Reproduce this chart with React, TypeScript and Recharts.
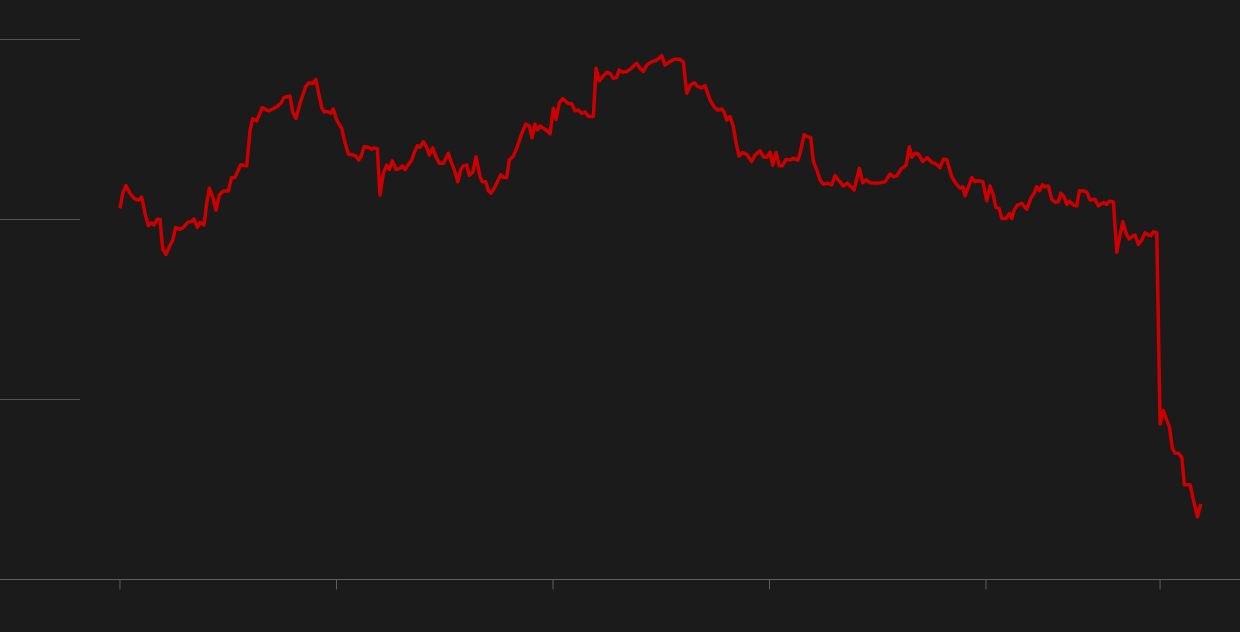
import React from "react";
import { LineChart, Line, XAxis, YAxis } from "recharts";

// week offset from the first observation
const weeks: number[] = [
  0, 0.65, 1.44, 2.4, 3.36, 4.4, 5.21, 6.01, 6.8, 7.61, 8.17, 8.96, 9.61, 10.26, 11.05, 11.84, 12.66, 13.38, 14.24, 15.06,
  16.26, 17.22, 17.77, 18.57, 19.22, 20.18, 20.83, 21.45, 22.27, 23.06, 23.85, 24.81, 26.01, 26.83, 27.62, 28.99, 30.43, 31.23, 31.87, 32.84,
  34.18, 35.24, 35.86, 37.64, 38.67, 39.39, 40.83, 41.48, 42.28, 43.24, 44.6, 45.4, 46.29, 47.01, 47.63, 48.45, 49.07, 50.03, 50.61, 51.23,
  52.05, 53.25, 53.88, 54.84, 56.04, 56.69, 57.34, 57.89, 58.61, 59.64, 60.46, 61.01, 61.8, 62.45, 63.24, 64.06, 64.69, 65.41, 66.3, 67.26,
  67.81, 68.46, 69.49, 70.07, 70.62, 71.41, 72.06, 72.85, 73.67, 74.29, 75.11, 75.9, 76.7, 77.66, 78.86, 79.67, 80.3, 81.12, 81.84, 82.46,
  83.28, 83.9, 84.72, 85.51, 86.47, 87.02, 87.84, 88.47, 89.11, 90.08, 91.44, 92.07, 92.89, 93.51, 94.47, 95.29, 96.49, 97.45, 98.31, 98.96,
  99.68, 100.24, 100.88, 102.09, 103.29, 104.08, 104.73, 105.52, 106.34, 107.54, 108.5, 109.29, 110.08, 110.9, 111.69, 112.49, 113.69, 114.34, 115.13, 116.09,
  116.91, 117.7, 118.49, 119.31, 119.86, 120.75, 121.71, 122.5, 123.3, 124.11, 124.9, 125.7, 126.51, 127.71, 128.92, 130.12, 130.91, 131.94, 133.31, 134.51,
  135.3, 136.12, 137.08, 137.95, 138.76, 139.72, 140.52, 141.72, 142.68, 143.57, 144.53, 145.08, 145.73, 146.52, 147.31, 147.96, 148.68, 149.57, 150.53, 151.73,
  152.53, 153.73, 154.52, 155.34, 156.13, 156.78, 157.57, 158.36, 159.08, 159.97, 160.93, 161.73, 162.78, 163.34, 164.3, 165.09, 165.91, 166.53, 167.35, 168.14,
  168.93, 169.89, 170.95, 171.74, 172.54, 173.74, 174.7, 176.31, 177.58, 178.4, 179.19, 180.15, 182.14, 183.75, 184.95, 185.75, 186.56, 187.52, 188.8, 189.59,
  190.17, 190.96, 191.75, 192.81, 193.91, 194.97, 196.17, 196.96, 197.76, 198.57, 199.77, 200.81, 201.77, 202.42, 202.97, 204.58, 205.37, 206.16, 207.22, 208.18,
  208.97, 209.77, 210.34, 211.14, 211.78, 212.82, 213.61, 214.19, 214.74, 215.53, 216.59, 217.79, 218.75, 219.54, 220.19, 220.82, 221.54, 222.19, 222.98, 223.79,
  224.59, 225.38, 225.96, 226.75, 227.4, 228.02, 228.98, 229.8, 230.42, 231.55, 232.2, 232.99, 234.2, 234.99, 236.19, 237.01, 237.63, 238.59, 239.41, 240.2,
  240.85, 241.64, 242.36, 243.25, 243.8, 244.6, 245.41, 246.21, 247.0, 247.57, 248.2, 249.01, 249.81, 250.6, 251.25, 252.04, 252.76, 253.41, 254.2, 255.02,
  255.64, 257.01, 257.81, 258.77, 259.58,
];

const values: number[] = [
  103.1, 107.3, 109.4, 107.3, 105.9, 105.4, 106.2, 101.7, 98.3, 99.1, 98.5, 100.1, 100.1, 91.8, 90.3, 92.4, 94.3, 97.8, 97.3, 97.6,
  99.2, 99.5, 100.1, 97.8, 99.2, 98.5, 104.5, 108.7, 106.3, 102.6, 106.8, 107.9, 107.9, 111.7, 111.7, 115.2, 114.9, 124.7, 128.0, 127.4,
  131.1, 130.4, 130.2, 131.3, 132.3, 133.9, 134.3, 129.8, 128.1, 132.3, 136.9, 138.0, 137.8, 138.9, 135.5, 131.1, 129.9, 129.9, 129.5, 130.7,
  127.6, 125.3, 122.1, 118.2, 117.9, 117.6, 116.5, 117.4, 120.2, 120.1, 119.5, 119.9, 119.6, 106.8, 112.8, 115.1, 113.9, 116.3, 113.9, 114.2,
  114.9, 113.9, 115.6, 116.5, 118.4, 120.5, 120.1, 121.6, 120.1, 117.9, 119.9, 117.4, 115.6, 115.6, 118.4, 115.6, 113.8, 110.5, 113.8, 114.9,
  115.1, 112.2, 113.1, 117.4, 111.9, 110.5, 110.5, 108.0, 107.3, 109.1, 112.4, 111.7, 111.7, 116.5, 117.6, 119.8, 123.9, 126.5, 126.0, 122.7,
  126.5, 124.9, 126.0, 125.1, 123.8, 130.9, 127.8, 132.4, 133.6, 132.3, 132.1, 130.2, 130.4, 129.5, 129.9, 128.6, 128.6, 142.0, 138.5, 139.9,
  140.9, 140.6, 139.2, 139.5, 141.5, 140.9, 141.1, 141.7, 142.6, 143.4, 142.0, 141.1, 142.9, 143.8, 144.3, 145.5, 142.9, 143.8, 144.6, 144.5,
  143.8, 135.1, 137.4, 138.0, 136.9, 136.6, 137.2, 133.2, 131.3, 130.4, 130.7, 129.9, 127.6, 128.6, 125.8, 121.2, 117.6, 118.6, 118.1, 116.1,
  117.9, 119.1, 117.4, 117.3, 118.7, 115.1, 118.6, 114.9, 114.9, 116.7, 116.5, 117.0, 116.5, 118.4, 123.5, 123.0, 122.7, 116.1, 113.8, 111.0,
  109.8, 110.1, 109.6, 112.2, 111.0, 109.3, 110.1, 108.2, 114.2, 110.2, 111.0, 110.2, 110.1, 110.5, 112.6, 111.9, 112.1, 113.9, 115.1, 120.2,
  117.3, 118.4, 118.2, 116.1, 117.2, 115.9, 115.3, 114.4, 116.8, 116.7, 111.9, 109.9, 108.7, 109.1, 106.6, 111.6, 110.5, 110.8, 110.5, 105.2,
  109.3, 106.8, 103.4, 103.1, 100.3, 100.3, 101.7, 100.3, 102.6, 104.0, 104.5, 102.8, 105.9, 107.3, 109.1, 108.0, 109.6, 109.1, 109.3, 105.6,
  104.8, 104.9, 107.3, 106.3, 104.2, 105.1, 104.0, 103.8, 108.0, 107.9, 107.6, 105.4, 105.6, 103.8, 104.7, 104.2, 105.1, 104.9, 90.9, 95.7,
  99.4, 96.2, 94.6, 95.4, 95.7, 93.1, 94.3, 96.3, 95.7, 95.5, 96.6, 96.3, 43.2, 46.9, 44.8, 42.4, 36.4, 35.1, 35.1, 33.9,
  26.3, 26.3, 22.1, 17.4, 21.0,
];

const xTicks: number[] = [0, 52, 104, 156, 208, 249.8];
const yTicks: number[] = [50, 100, 150];

const data = weeks.map((w, i) => ({ week: w, value: values[i] }));

const EmptyTick = () => <g />;

export default function App() {
  return (
    <div
      style={{
        position: "absolute",
        left: 0,
        top: 0,
        width: 1240,
        height: 632,
        background: "#1b1b1b",
      }}
    >
      <LineChart
        width={1240}
        height={632}
        data={data}
        margin={{ top: 39.5, right: 0, bottom: 22.5, left: 0 }}
      >
        <XAxis
          dataKey="week"
          type="number"
          domain={[-28.82, 269.0]}
          allowDataOverflow
          ticks={xTicks}
          interval={0}
          height={30}
          axisLine={{ stroke: "#5e5e5e", strokeWidth: 1 }}
          tickLine={{ stroke: "#5e5e5e", strokeWidth: 1 }}
          tickSize={10}
          tick={EmptyTick}
        />
        <YAxis
          type="number"
          domain={[0, 150]}
          ticks={yTicks}
          interval={0}
          orientation="left"
          mirror
          width={80}
          axisLine={false}
          tickLine={{ stroke: "#555555", strokeWidth: 1 }}
          tickSize={80}
          tick={EmptyTick}
          allowDataOverflow
        />
        <Line
          type="linear"
          dataKey="value"
          stroke="#cc0000"
          strokeWidth={3.5}
          dot={false}
          activeDot={false}
          strokeLinejoin="round"
          isAnimationActive={false}
        />
      </LineChart>
    </div>
  );
}
